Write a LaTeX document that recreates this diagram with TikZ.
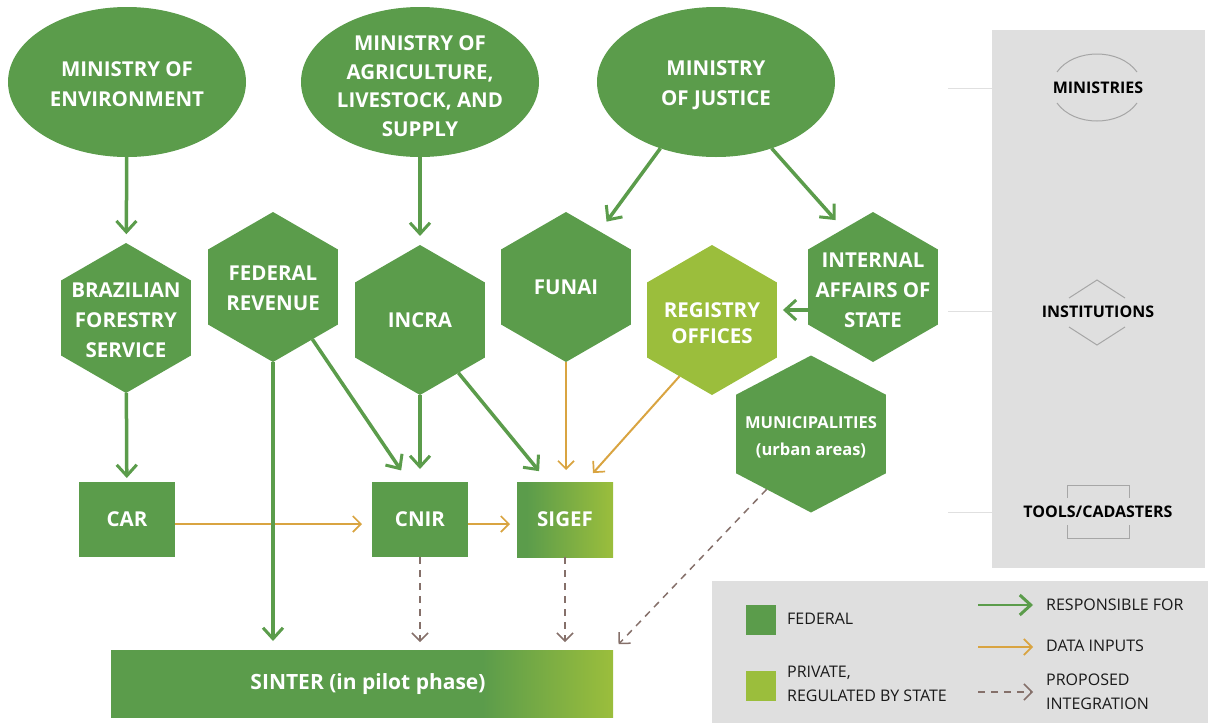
\documentclass[tikz,border=0pt]{standalone}
\usepackage{fontspec}
\setmainfont{Open Sans}
\usetikzlibrary{shapes.geometric,arrows.meta}
\definecolor{fedgreen}{HTML}{5B9C4B}
\definecolor{privgreen}{HTML}{9BBE3C}
\definecolor{inputorange}{HTML}{D9A441}
\definecolor{propbrown}{HTML}{85706A}
\definecolor{panelgray}{HTML}{DFDFDF}
\definecolor{icongray}{HTML}{A6A6A6}
\pgfdeclarehorizontalshading{sigefshade}{100bp}{color(0bp)=(fedgreen); color(30bp)=(fedgreen); color(75bp)=(privgreen); color(100bp)=(privgreen)}
\pgfdeclarehorizontalshading{sintershade}{100bp}{color(0bp)=(fedgreen); color(62bp)=(fedgreen); color(75bp)=(privgreen); color(100bp)=(privgreen)}
\tikzset{
  nodetext/.style={text=white,font=\fontsize{20.5}{30}\selectfont\bfseries,align=center,inner sep=0pt,outer sep=0pt},
  ministry/.style={nodetext,ellipse,fill=fedgreen,minimum width=238pt,minimum height=150pt},
  institution/.style={nodetext,regular polygon,regular polygon sides=6,shape border rotate=30,fill=fedgreen,minimum size=150pt},
  tool/.style={nodetext,rectangle,fill=fedgreen,minimum width=96pt,minimum height=75pt},
  resp/.style={draw=fedgreen,line width=3.5pt,-{Straight Barb[length=11pt,width=20pt,line width=3pt]},shorten >=9pt},
  input/.style={draw=inputorange,line width=2pt,-{Straight Barb[length=8pt,width=16pt,line width=1.7pt]},shorten >=10pt},
  proposed/.style={draw=propbrown,line width=1.5pt,dash pattern=on 7pt off 6pt,-{Straight Barb[length=8pt,width=16pt,line width=1.5pt]},shorten >=8pt},
  paneltext/.style={font=\fontsize{16}{20}\selectfont\bfseries,text=black,inner sep=0pt},
  legendtext/.style={font=\fontsize{16}{23.5}\selectfont,text=black!90,align=left,anchor=west,inner sep=0pt},
  iconline/.style={draw=icongray,line width=1pt},
  guide/.style={draw=black!12,line width=.7pt}
}
\begin{document}
\begin{tikzpicture}[x=1pt,y=-1pt]
\useasboundingbox (0,0) rectangle (1208,723);
\fill[panelgray] (992,30) rectangle (1205,568);
\fill[panelgray] (712,581) rectangle (1208,723);
\draw[guide] (948,88) -- (992,88);
\draw[guide] (948,311) -- (992,311);
\draw[guide] (948,512) -- (992,512);
\node[ministry] (env) at (127,82) {};
\node[nodetext] (envt) at (127,84) {MINISTRY OF\\ENVIRONMENT};
\node[ministry] (agr) at (420,82) {};
\node[nodetext,font=\fontsize{20.5}{28.5}\selectfont\bfseries] (agrt) at (420,86) {MINISTRY OF\\AGRICULTURE,\\LIVESTOCK, AND\\SUPPLY};
\node[ministry] (jus) at (716,82) {};
\node[nodetext] (just) at (716,85) {MINISTRY\\OF JUSTICE};
\node[institution] (bfs) at (126,318) {};
\node[nodetext] (bfst) at (126,320) {BRAZILIAN\\FORESTRY\\SERVICE};
\node[institution] (rev) at (273,287) {};
\node[nodetext] (revt) at (273,288) {FEDERAL\\REVENUE};
\node[institution] (inc) at (420,320) {};
\node[nodetext] (inct) at (420,320) {INCRA};
\node[institution] (fun) at (566,287) {};
\node[nodetext] (funt) at (566,287) {FUNAI};
\node[institution,fill=privgreen] (reg) at (712,320) {};
\node[nodetext,font=\fontsize{20.5}{26}\selectfont\bfseries] (regt) at (712,323) {REGISTRY\\OFFICES};
\node[institution] (int) at (873,287) {};
\node[nodetext] (intt) at (873,290) {INTERNAL\\AFFAIRS OF\\STATE};
\node[institution,minimum size=157pt,xscale=1.103,transform shape] (mun) at (811,434) {};
\node[nodetext,font=\fontsize{16.5}{27}\selectfont\bfseries] (munt) at (811,437) {MUNICIPALITIES\\(urban areas)};
\node[tool] (car) at (127,519.5) {CAR};
\node[tool] (cni) at (420,519.5) {CNIR};
\node[tool,shading=sigefshade] (sig) at (565,519.5) {SIGEF};
\node[tool,shading=sintershade,minimum width=502pt,minimum height=67pt] (sin) at (362,683.5) {};
\node[nodetext,font=\fontsize{21}{25}\selectfont\bfseries] (sint) at (368,684) {SINTER (in pilot phase)};
\draw[resp] (env) -- (bfs);
\draw[resp] (agr) -- (inc);
\draw[resp,shorten >=12pt] (jus.-130) -- (fun.59);
\draw[resp,shorten >=12pt] (jus.-50) -- (int.117);
\draw[resp,shorten >=6pt] (int.west |- 0,310) -- (reg.east |- 0,310);
\draw[resp,shorten >=4pt] (bfs) -- (car);
\draw[input] (car.east |- 0,524) -- (cni.west |- 0,524);
\draw[resp] (rev) -- (rev |- sin.north);
\draw[resp,shorten >=14pt] (rev.-53) -- (cni.north west -| 409,0);
\draw[resp,shorten >=13pt] (inc) -- (cni);
\draw[resp,shorten >=14pt] (inc.-54) -- (sig.north west -| 548,0);
\draw[input,shorten >=12pt] (fun) -- (sig.north -| fun);
\draw[input,shorten >=12pt] (reg.-120) -- (sig.north east -| 585,0);
\draw[input,shorten >=7pt] (cni.east |- 0,524) -- (sig.west |- 0,524);
\draw[proposed] (cni) -- (cni |- sin.north);
\draw[proposed] (sig) -- (sig |- sin.north);
\draw[proposed] (mun.-126) -- (sin.north east);
\draw[iconline] (1057,72) .. controls (1074,48) and (1120,48) .. (1137,72);
\draw[iconline] (1057,103) .. controls (1074,127) and (1120,127) .. (1137,103);
\draw[iconline] (1069,298) -- (1097,280) -- (1125,298);
\draw[iconline] (1069,327) -- (1097,345) -- (1125,327);
\draw[iconline] (1067,498) -- (1067,485) -- (1129,485) -- (1129,498);
\draw[iconline] (1067,525) -- (1067,538) -- (1129,538) -- (1129,525);
\node[paneltext] (mins) at (1098,88) {MINISTRIES};
\node[paneltext] (inst) at (1098,312) {INSTITUTIONS};
\node[paneltext] (tool) at (1098,512) {TOOLS/CADASTERS};
\fill[fedgreen] (746,605) rectangle (776,635);
\fill[privgreen] (746,671) rectangle (776,701);
\node[legendtext] (lfed) at (787,619) {FEDERAL};
\node[legendtext] (lpri) at (787,684) {PRIVATE,\\REGULATED BY STATE};
\coordinate (a1) at (978,605);
\coordinate (b1) at (1033,605);
\coordinate (a2) at (978,647);
\coordinate (b2) at (1033,647);
\coordinate (a3) at (978,692);
\coordinate (b3) at (1033,692);
\draw[resp,line width=2.5pt,shorten >=0pt] (a1) -- (b1);
\draw[input,shorten >=0pt] (a2) -- (b2);
\draw[proposed,shorten >=0pt] (a3) -- (b3);
\node[legendtext] (lres) at (1046,605) {RESPONSIBLE FOR};
\node[legendtext] (ldat) at (1046,646) {DATA INPUTS};
\node[legendtext] (lpro) at (1046,692) {PROPOSED\\INTEGRATION};
\end{tikzpicture}
\end{document}
